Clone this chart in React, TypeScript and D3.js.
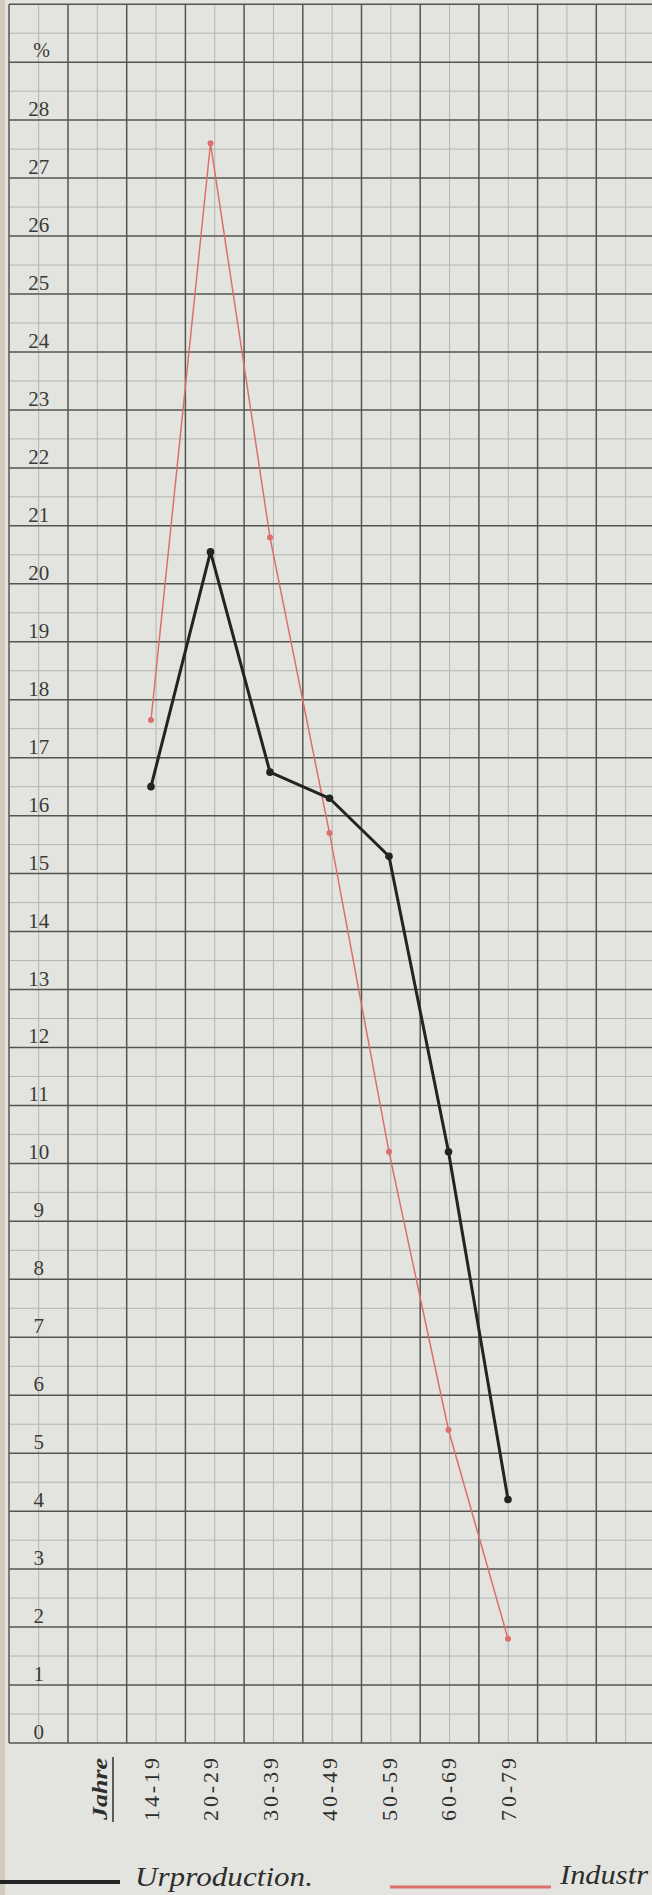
import React from 'react';
import * as d3 from 'd3';

// age groups (Jahre) and the two series, in percent
const ageGroups = ['14-19', '20-29', '30-39', '40-49', '50-59', '60-69', '70-79'];
const urproduction = [16.5, 20.55, 16.75, 16.3, 15.3, 10.2, 4.2];
const industrie = [17.65, 27.6, 20.8, 15.7, 10.2, 5.4, 1.8];
const percentTicks = [0, 1, 2, 3, 4, 5, 6, 7, 8, 9, 10, 11, 12, 13, 14, 15, 16, 17, 18, 19, 20, 21, 22, 23, 24, 25, 26, 27, 28];
// the second legend word runs off the sheet in the scan
const legendLabels = ['Urproduction.', 'Industr'];

const W = 652;
const H = 1895;
const paper = '#e3e4df';
const major = '#545553';
const minor = '#b3b4b0';
const black = '#222322';
const red = '#dc6f6c';

export default function App() {
  // value axis: 0..30 %, one unit per big square
  const y = d3.scaleLinear().domain([0, 30]).range([1743, 4.2]);
  // grid columns, one big square per unit
  const col = d3.scaleLinear().domain([0, 1]).range([68, 126.7]);
  const x = d3.scalePoint<string>().domain(ageGroups).range([151, 508]);

  const left = 9;
  const gridTop = y(30);
  const gridBottom = y(0);

  const line = d3.line<number>()
    .x((d, i) => x(ageGroups[i]) as number)
    .y(d => y(d));

  const hMajor = d3.range(0, 31);
  const hMinor = d3.range(0, 30).map(v => v + 0.5);
  const vMajor = d3.range(0, 11);
  const vMinor = d3.range(-1, 10).map(v => v + 0.5);

  return (
    <div style={{ position: 'absolute', left: 0, top: 0 }}>
      <svg width={W} height={H} style={{ display: 'block', background: paper }}>
        <rect x={0} y={0} width={W} height={H} fill={paper} />
        <rect x={0} y={0} width={5} height={H} fill="#cdc5b4" opacity={0.8} />

        {/* minor grid */}
        <g stroke={minor} strokeWidth={1}>
          {hMinor.map(v => (
            <line key={'hm' + v} x1={left} x2={W} y1={y(v)} y2={y(v)} />
          ))}
          {vMinor.map(c => (
            <line key={'vm' + c} x1={col(c)} x2={col(c)} y1={gridTop} y2={gridBottom} />
          ))}
        </g>

        {/* major grid */}
        <g stroke={major} strokeWidth={1.5}>
          {hMajor.map(v => (
            <line key={'h' + v} x1={left} x2={W} y1={y(v)} y2={y(v)} />
          ))}
          {vMajor.map(c => (
            <line key={'v' + c} x1={col(c)} x2={col(c)} y1={gridTop} y2={gridBottom} />
          ))}
          <line x1={left} x2={left} y1={gridTop} y2={gridBottom} />
        </g>

        {/* percent labels */}
        <g fontFamily="'Liberation Serif', serif" fontSize={21} fill="#3a3a38" textAnchor="middle">
          {percentTicks.map(v => (
            <text key={'t' + v} x={col(-0.5)} y={y(v) - 4}>{v}</text>
          ))}
          <text x={col(-0.5) + 3} y={y(29) - 5} fontSize={20}>%</text>
        </g>

        {/* series */}
        <path d={line(industrie) as string} fill="none" stroke={red} strokeWidth={1.5} />
        {industrie.map((d, i) => (
          <circle key={'r' + i} cx={x(ageGroups[i])} cy={y(d)} r={3} fill={red} />
        ))}
        <path d={line(urproduction) as string} fill="none" stroke={black} strokeWidth={3} strokeLinejoin="round" />
        {urproduction.map((d, i) => (
          <circle key={'b' + i} cx={x(ageGroups[i])} cy={y(d)} r={3.8} fill={black} />
        ))}

        {/* age group labels */}
        <g fontFamily="'Liberation Serif', serif" fontSize={22} fill="#2e2e2c">
          {ageGroups.map(a => (
            <text key={a} transform={`translate(${x(a)},1758) rotate(-90)`} textAnchor="end" dy="0.35em"
              textLength={63} lengthAdjust="spacing">{a}</text>
          ))}
          <text transform="translate(99,1758) rotate(-90)" textAnchor="end" dy="0.35em" fontStyle="italic"
            fontWeight="bold" textLength={62} lengthAdjust="spacingAndGlyphs">Jahre</text>
          <line x1={113} x2={113} y1={1757} y2={1822} stroke="#2e2e2c" strokeWidth={1.5} />
        </g>

        {/* legend */}
        <line x1={0} x2={120} y1={1882} y2={1882} stroke={black} strokeWidth={4} />
        <text x={135} y={1886} fontFamily="'Liberation Serif', serif" fontStyle="italic"
          fontSize={28} fill="#2e2e2c" textLength={178} lengthAdjust="spacingAndGlyphs">{legendLabels[0]}</text>
        <line x1={390} x2={551} y1={1887} y2={1887} stroke={red} strokeWidth={3} />
        <text x={560} y={1884} fontFamily="'Liberation Serif', serif" fontStyle="italic"
          fontSize={28} fill="#2e2e2c" textLength={88} lengthAdjust="spacingAndGlyphs">{legendLabels[1]}</text>
      </svg>
    </div>
  );
}
